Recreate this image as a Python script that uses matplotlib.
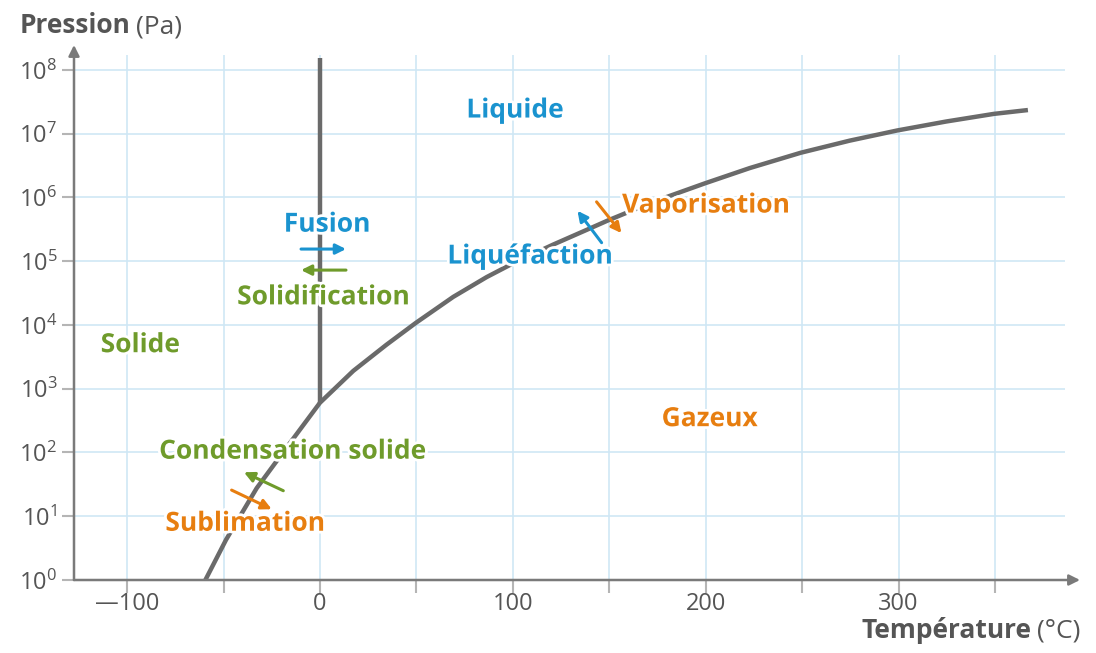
import matplotlib
matplotlib.use("Agg")
import matplotlib.pyplot as plt
import matplotlib.patheffects as pe

# Diagramme de phases de l'eau
# courbe solide/liquide -> gaz : température (°C) et log10 de la pression (Pa)
curve_temp = [-59.4, -48.7, -32.8, -15.5, 0, 17.3, 34.5, 49.6, 69.1, 86.4, 101,
              120.9, 138.2, 149.4, 172.7, 199.5, 222.8, 249.2, 274.6, 299.3,
              324.6, 349.4, 367]
curve_logp = [0.0, 0.63, 1.44, 2.15, 2.78, 3.28, 3.69, 4.03, 4.44, 4.75, 4.98,
              5.26, 5.49, 5.64, 5.93, 6.22, 6.46, 6.70, 6.89, 7.05,
              7.19, 7.31, 7.37]

# courbe de fusion (verticale à 0 °C)
fusion_temp = [0, 0]
fusion_logp = [2.78, 8.19]

x_ticks = [-100, 0, 100, 200, 300]
x_tick_labels = ["\u2014100", "0", "100", "200", "300"]
x_minor = [-50, 50, 150, 250, 350]
y_decades = [0, 1, 2, 3, 4, 5, 6, 7, 8]

BLUE = "#1a93cf"
GREEN = "#6f9b2b"
ORANGE = "#e77e10"
GRAY = "#6a6a6a"
AXIS = "#7a7a7a"
GRID = "#cfe7f5"
TEXT = "#555555"

plt.rcParams["font.family"] = ["Open Sans", "DejaVu Sans"]
plt.rcParams["mathtext.default"] = "regular"

fig = plt.figure(figsize=(10.96, 6.53), dpi=100)
ax = fig.add_axes([74 / 1096, 73 / 653, 1006 / 1096, 535 / 653])
ax.set_yscale("log")
ax.set_xlim(-127.5, 394)
ax.set_ylim(1, 10 ** 8.39)

for s in ax.spines.values():
    s.set_visible(False)

# grille
ax.hlines([10.0 ** d for d in y_decades], -127.5, 386, color=GRID, lw=1.2, zorder=0)
ax.vlines(x_ticks + x_minor, 1, 10 ** 8.24, color=GRID, lw=1.2, zorder=0)

# axes avec flèches
for tip in [(1, 0), (0, 1)]:
    ax.annotate("", xy=tip, xytext=(0, 0), xycoords="axes fraction",
                arrowprops=dict(arrowstyle="-|>", color=AXIS, lw=1.8, mutation_scale=16,
                                shrinkA=0, shrinkB=0))

# graduations
all_x = sorted(x_ticks + x_minor)
labels = {t: l for t, l in zip(x_ticks, x_tick_labels)}
ax.set_xticks(all_x)
ax.set_xticklabels([labels.get(t, "") for t in all_x])
ax.set_yticks([10.0 ** d for d in y_decades])
ax.set_yticklabels([r"$10^{%d}$" % d for d in y_decades])
ax.minorticks_off()
ax.tick_params(axis="both", colors="#b5b5b5", width=1.5, length=9, labelcolor=TEXT,
               labelsize=17)
ax.tick_params(axis="x", pad=0)
ax.tick_params(axis="y", pad=3)

# courbes
ax.plot(curve_temp, [10 ** v for v in curve_logp], color=GRAY, lw=3.2,
        solid_capstyle="butt", solid_joinstyle="round", zorder=2)
ax.plot(fusion_temp, [10 ** v for v in fusion_logp], color=GRAY, lw=3.2,
        solid_capstyle="butt", zorder=2)

halo = [pe.withStroke(linewidth=4, foreground="white")]


def label(x, logp, txt, color):
    ax.text(x, 10 ** logp, txt, color=color, fontsize=19, fontweight="bold",
            ha="center", va="center", path_effects=halo, zorder=4)


def arrow(x0, p0, x1, p1, color):
    ax.annotate("", xy=(x1, 10 ** p1), xytext=(x0, 10 ** p0),
                arrowprops=dict(arrowstyle="-|>", color=color, lw=2.2,
                                mutation_scale=15, shrinkA=0, shrinkB=0), zorder=5)


label(101, 7.37, "Liquide", BLUE)
label(-93.3, 3.69, "Solide", GREEN)
label(202, 2.53, "Gazeux", ORANGE)
label(3.6, 5.58, "Fusion", BLUE)
label(1.6, 4.44, "Solidification", GREEN)
label(108.8, 5.08, "Liquéfaction", BLUE)
label(200, 5.88, "Vaporisation", ORANGE)
label(-14.5, 2.02, "Condensation solide", GREEN)
label(-38.9, 0.89, "Sublimation", ORANGE)

arrow(-9.8, 5.19, 13.5, 5.19, BLUE)
arrow(13.5, 4.86, -9.8, 4.86, GREEN)
arrow(146, 5.29, 133.5, 5.79, BLUE)
arrow(143.4, 5.93, 156.3, 5.44, ORANGE)
arrow(-19, 1.40, -39.4, 1.69, GREEN)
arrow(-45.8, 1.41, -25, 1.11, ORANGE)

# titres des axes (gras + unité en normal)
renderer = fig.canvas.get_renderer()
t1 = fig.text(20 / 1096, 1 - 33 / 653, "Pression", fontsize=19, fontweight="bold",
              color=TEXT, ha="left", va="baseline")
bb = t1.get_window_extent(renderer)
fig.text((bb.x1 + 5) / 1096, 1 - 33 / 653, "(Pa)", fontsize=19, color=TEXT,
         ha="left", va="baseline")

t2 = fig.text(1080 / 1096, 1 - 638 / 653, "(°C)", fontsize=19, color=TEXT,
              ha="right", va="baseline")
bb2 = t2.get_window_extent(renderer)
fig.text((bb2.x0 - 5) / 1096, 1 - 638 / 653, "Température", fontsize=19,
         fontweight="bold", color=TEXT, ha="right", va="baseline")

fig.savefig("out.png", dpi=100, facecolor="white")
